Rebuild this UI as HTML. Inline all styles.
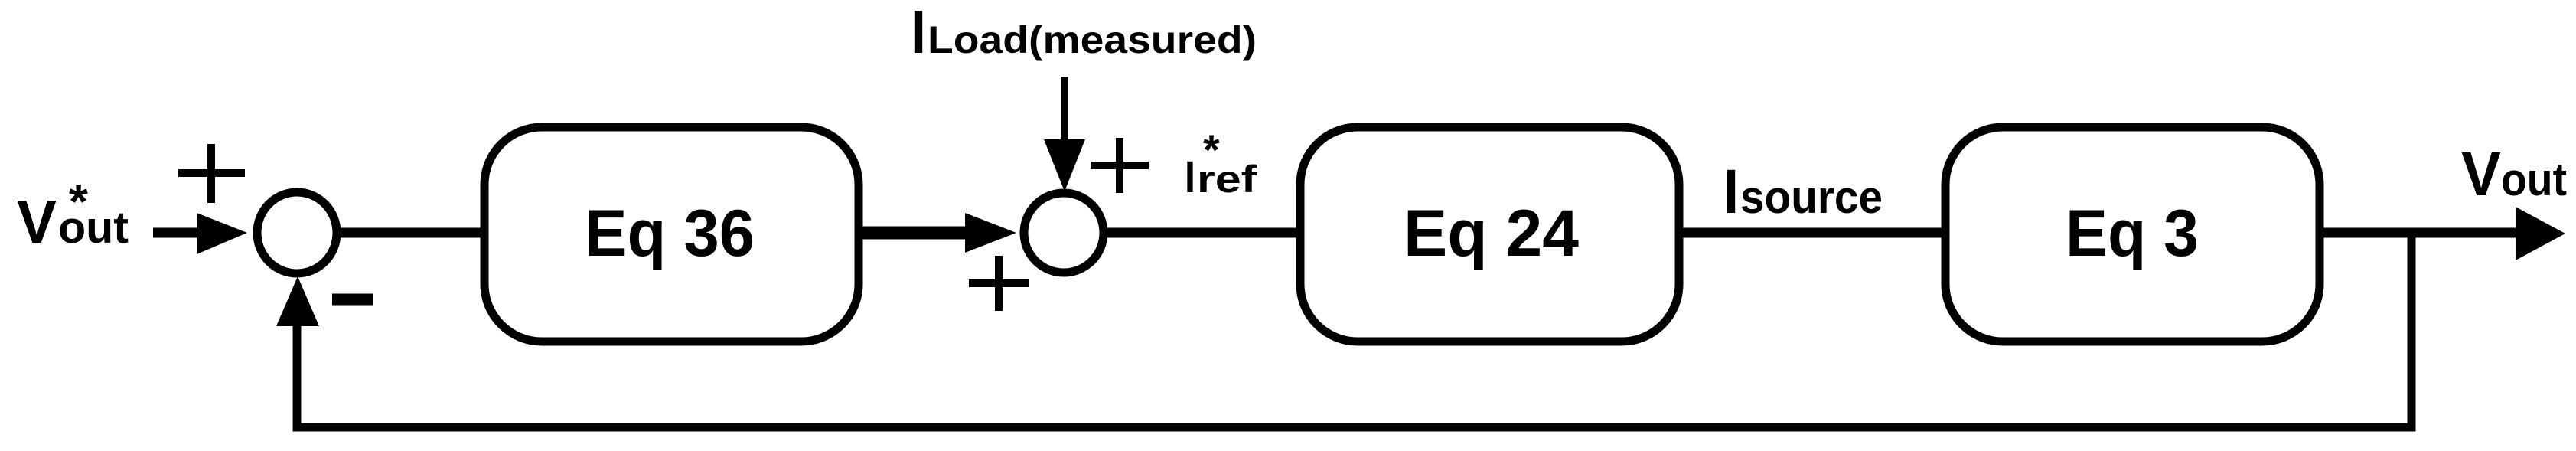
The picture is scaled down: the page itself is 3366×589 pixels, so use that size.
<!DOCTYPE html>
<html><head><meta charset="utf-8"><style>html,body{margin:0;padding:0;background:#fff}svg{display:block}</style></head>
<body>
<svg width="3366" height="589" viewBox="0 0 3366 589" xmlns="http://www.w3.org/2000/svg" font-family="Liberation Sans, sans-serif" font-weight="bold">
<rect width="3366" height="589" fill="#fff"/>
<g fill="none" stroke="#000">
<!-- boxes -->
<rect x="633" y="166" width="489" height="280" rx="75" ry="75" stroke-width="11"/>
<rect x="1699" y="166" width="495" height="280" rx="75" ry="75" stroke-width="11"/>
<rect x="2542" y="166" width="489" height="280" rx="75" ry="75" stroke-width="11"/>
<!-- circles -->
<ellipse cx="388" cy="304" rx="52" ry="53" stroke-width="11"/>
<ellipse cx="1390" cy="304" rx="52" ry="52" stroke-width="11"/>
<!-- lines -->
<line x1="200" y1="304" x2="262" y2="304" stroke-width="13"/>
<line x1="444" y1="304" x2="633" y2="304" stroke-width="13"/>
<line x1="1127" y1="304" x2="1265" y2="304" stroke-width="17"/>
<line x1="1442" y1="304" x2="1699" y2="304" stroke-width="13"/>
<line x1="2194" y1="304" x2="2542" y2="304" stroke-width="13"/>
<line x1="3031" y1="304" x2="3290" y2="304" stroke-width="13"/>
<line x1="1391" y1="100" x2="1391" y2="190" stroke-width="10"/>
<polyline points="3151,304 3151,558 388,558 388,420" stroke-width="11"/>
<!-- plus/minus -->
<path d="M276 188V265M233 226H320" stroke-width="10"/>
<path d="M1463 180V252M1425 216H1501" stroke-width="10"/>
<path d="M1305 334V406M1266 370H1344" stroke-width="10"/>
<path d="M434 391H488" stroke-width="15"/>
</g>
<g fill="#000">
<polygon points="257,278 323,304 257,332"/>
<polygon points="1261,278 1328,304 1261,330"/>
<polygon points="1364,182 1418,182 1391,250"/>
<polygon points="361,426 417,426 389,361"/>
<polygon points="3287,270 3352,305 3287,340"/>
</g>
<g fill="#000">
<text x="764" y="334" font-size="86" textLength="222" lengthAdjust="spacingAndGlyphs">Eq 36</text>
<text x="1834" y="334" font-size="86" textLength="229" lengthAdjust="spacingAndGlyphs">Eq 24</text>
<text x="2699" y="334" font-size="86" textLength="174" lengthAdjust="spacingAndGlyphs">Eq 3</text>
<text x="22" y="317" font-size="80" textLength="52" lengthAdjust="spacingAndGlyphs">V</text>
<text x="76" y="317" font-size="58" textLength="92" lengthAdjust="spacingAndGlyphs">out</text>
<text x="90" y="285" font-size="64">*</text>
<text x="1190" y="69" font-size="80" textLength="20" lengthAdjust="spacingAndGlyphs">I</text>
<text x="1212" y="69" font-size="50" textLength="430" lengthAdjust="spacingAndGlyphs">Load(measured)</text>
<text x="1548" y="251" font-size="58" textLength="14" lengthAdjust="spacingAndGlyphs">I</text>
<text x="1564" y="251" font-size="50" textLength="78" lengthAdjust="spacingAndGlyphs">ref</text>
<text x="1572" y="215" font-size="56">*</text>
<text x="2252" y="278" font-size="82" textLength="20" lengthAdjust="spacingAndGlyphs">I</text>
<text x="2274" y="278" font-size="60" textLength="186" lengthAdjust="spacingAndGlyphs">source</text>
<text x="3216" y="255" font-size="82" textLength="52" lengthAdjust="spacingAndGlyphs">V</text>
<text x="3268" y="255" font-size="60" textLength="86" lengthAdjust="spacingAndGlyphs">out</text>
</g>
</svg>
</body></html>
